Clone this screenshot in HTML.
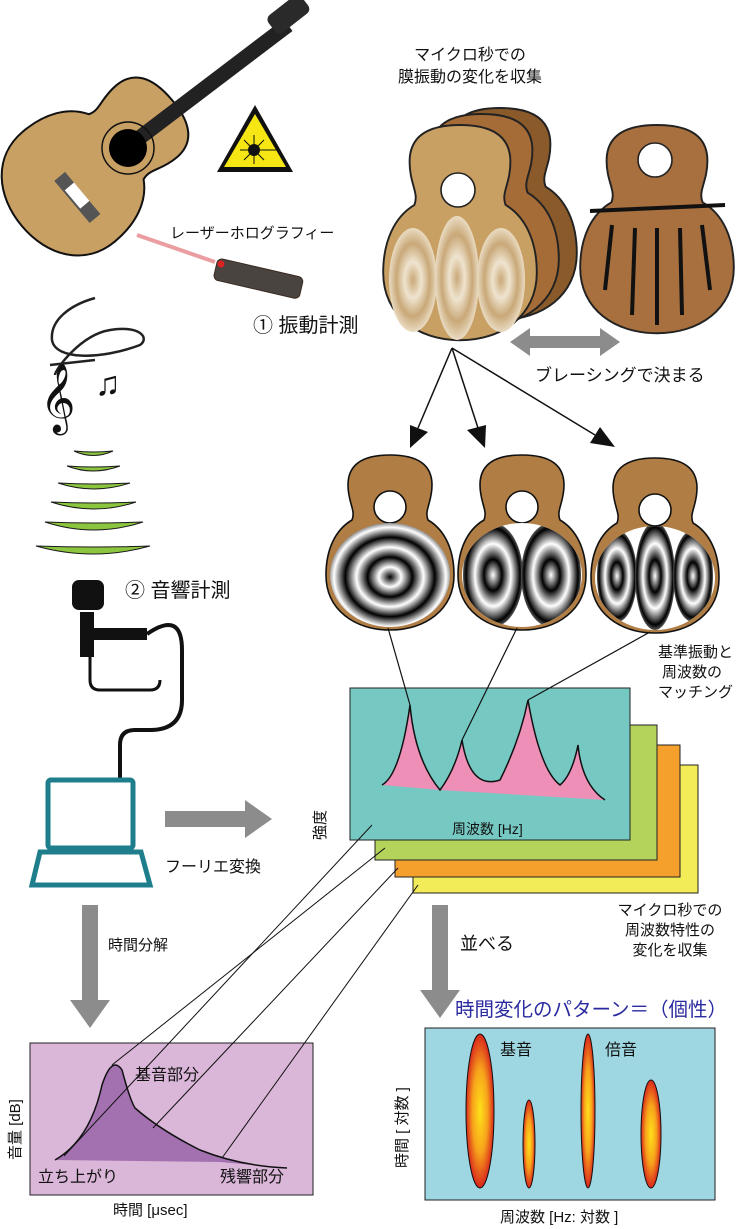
<!DOCTYPE html>
<html><head><meta charset="utf-8"><style>
html,body{margin:0;padding:0;background:#fff}
svg{display:block}
text{font-family:"Liberation Sans","Noto Sans CJK JP",sans-serif;fill:#111}
</style></head><body>
<svg width="736" height="1229" viewBox="0 0 736 1229" xmlns="http://www.w3.org/2000/svg">
<defs>
<path id="gp" d="M0,0 C28,0 42,10 42,30 C42,48 34,55 38,65 C55,75 64,95 64,120 C64,155 35,175 0,175 C-35,175 -64,155 -64,120 C-64,95 -55,75 -38,65 C-34,55 -42,48 -42,30 C-42,10 -28,0 0,0Z"/>
<clipPath id="lb"><ellipse cx="0" cy="120" rx="60" ry="52"/></clipPath>
<radialGradient id="ring" cx="0.5" cy="0.5" r="0.16" spreadMethod="repeat">
<stop offset="0" stop-color="#000"/><stop offset="0.5" stop-color="#fff"/><stop offset="1" stop-color="#000"/></radialGradient>
<radialGradient id="ring2" cx="0.5" cy="0.5" r="0.3" spreadMethod="repeat">
<stop offset="0" stop-color="#fff"/><stop offset="0.5" stop-color="#000"/><stop offset="1" stop-color="#fff"/></radialGradient>
<radialGradient id="tanring" cx="0.5" cy="0.5" r="0.35" spreadMethod="repeat">
<stop offset="0" stop-color="#c9a878"/><stop offset="0.5" stop-color="#efe4cf"/><stop offset="1" stop-color="#c9a878"/></radialGradient>
<radialGradient id="flame" cx="0.5" cy="0.5" r="0.5">
<stop offset="0" stop-color="#ffe11a"/><stop offset="0.55" stop-color="#f7a21b"/><stop offset="1" stop-color="#d9261c"/></radialGradient>
</defs>

<!-- top-left guitar -->
<use href="#gp" transform="translate(172,100) rotate(50) scale(1.12)" fill="#c9a064" stroke="#111" stroke-width="1.8"/>
<line x1="130" y1="145" x2="288" y2="25" stroke="#222" stroke-width="15"/>
<rect x="268" y="3" width="42" height="22" rx="6" fill="#2a2a2a" transform="rotate(-38 289 15)"/>
<circle cx="128" cy="148" r="26" fill="none" stroke="#111" stroke-width="1.5"/>
<circle cx="128" cy="148" r="19" fill="#000"/>
<rect x="50" y="190" width="55" height="14" fill="#555" transform="rotate(50 77 197)"/>
<rect x="64" y="190" width="24" height="12" fill="#fff" transform="rotate(50 77 197)"/>
<!-- laser sign -->
<polygon points="255,105 293,172 217,172" fill="#111"/>
<polygon points="255,114 286,167 224,167" fill="#f5e614"/>
<circle cx="254" cy="150" r="6" fill="#111"/>
<g stroke="#111" stroke-width="1"><line x1="240" y1="150" x2="280" y2="150"/><line x1="254" y1="135" x2="254" y2="164"/><line x1="244" y1="140" x2="264" y2="160"/><line x1="244" y1="160" x2="264" y2="140"/></g>
<!-- laser -->
<line x1="137" y1="235" x2="215" y2="262" stroke="#eb9ea2" stroke-width="4"/>
<rect x="218" y="258" width="88" height="22" rx="5" fill="#4a4440" stroke="#3a2a20" transform="rotate(13 218 258)"/>
<circle cx="221" cy="264" r="3.5" fill="#d22"/>
<text x="170" y="238" font-size="15">レーザーホログラフィー</text>
<text x="253" y="332" font-size="20">① 振動計測</text>

<text x="470" y="60" font-size="16" text-anchor="middle">マイクロ秒での</text>
<text x="470" y="82" font-size="16" text-anchor="middle">膜振動の変化を収集</text>
<!-- stacked bodies -->
<use href="#gp" transform="translate(500,108) scale(1.2,1.21)" fill="#8a5a2b" stroke="#222" stroke-width="1.6"/>
<use href="#gp" transform="translate(482,114) scale(1.2,1.21)" fill="#a56c38" stroke="#222" stroke-width="1.6"/>
<use href="#gp" transform="translate(460,125) scale(1.2,1.23)" fill="#c9a064" stroke="#222" stroke-width="1.6"/>
<circle cx="458" cy="190" r="17" fill="#fff" stroke="#222" stroke-width="1.6"/>
<ellipse cx="413" cy="280" rx="24" ry="52" fill="url(#tanring)"/>
<ellipse cx="457" cy="278" rx="22" ry="62" fill="url(#tanring)"/>
<ellipse cx="501" cy="280" rx="24" ry="52" fill="url(#tanring)"/>
<!-- brace body -->
<use href="#gp" transform="translate(657,125) scale(1.2,1.19)" fill="#a8703f" stroke="#222" stroke-width="1.6"/>
<circle cx="655" cy="160" r="17" fill="#fff" stroke="#222" stroke-width="1.6"/>
<g stroke="#111" stroke-width="4"><line x1="590" y1="211" x2="725" y2="205"/><line x1="612" y1="225" x2="605" y2="290"/><line x1="635" y1="228" x2="632" y2="315"/><line x1="657" y1="228" x2="657" y2="325"/><line x1="680" y1="228" x2="682" y2="315"/><line x1="702" y1="225" x2="710" y2="290"/></g>
<!-- double arrow -->
<polygon points="510,342 530,328 530,336 600,336 600,328 620,342 600,356 600,348 530,348 530,356" fill="#8c8c8c"/>
<text x="535" y="381" font-size="17">ブレーシングで決まる</text>
<!-- arrows -->
<g stroke="#111" stroke-width="1.5"><line x1="452" y1="348" x2="418" y2="428"/><line x1="452" y1="348" x2="478" y2="428"/><line x1="452" y1="348" x2="595" y2="435"/></g>
<polygon points="410,448 410,425 428,432" fill="#111"/>
<polygon points="485,448 467,430 486,425" fill="#111"/>
<polygon points="615,447 590,443 600,427" fill="#111"/>
<!-- three small guitars -->
<g transform="translate(390,455)">
<use href="#gp" fill="#b07e45" stroke="#111" stroke-width="1.6"/>
<circle cx="0" cy="52" r="16" fill="#fff" stroke="#111" stroke-width="1.6"/>
<g clip-path="url(#lb)"><ellipse cx="0" cy="122" rx="70" ry="62" fill="url(#ring)"/></g>
</g>
<g transform="translate(522,455)">
<use href="#gp" fill="#b07e45" stroke="#111" stroke-width="1.6"/>
<circle cx="0" cy="52" r="16" fill="#fff" stroke="#111" stroke-width="1.6"/>
<g clip-path="url(#lb)"><rect x="-64" y="60" width="128" height="120" fill="#fff"/><ellipse cx="-29" cy="120" rx="30" ry="52" fill="url(#ring2)"/><ellipse cx="29" cy="120" rx="30" ry="52" fill="url(#ring2)"/></g>
</g>
<g transform="translate(655,458)">
<use href="#gp" fill="#b07e45" stroke="#111" stroke-width="1.6"/>
<circle cx="0" cy="52" r="16" fill="#fff" stroke="#111" stroke-width="1.6"/>
<g clip-path="url(#lb)"><rect x="-64" y="60" width="128" height="120" fill="#fff"/><ellipse cx="-38" cy="118" rx="20" ry="46" fill="url(#ring2)"/><ellipse cx="0" cy="118" rx="20" ry="54" fill="url(#ring2)"/><ellipse cx="38" cy="118" rx="20" ry="46" fill="url(#ring2)"/></g>
</g>
<!-- music notes -->
<g fill="none" stroke="#222" stroke-width="2.5">
<path d="M95,298 C70,305 50,320 52,340 C55,360 100,360 140,345 C150,338 140,325 110,330 C80,335 55,370 55,375"/>
<path d="M50,365 L95,360"/>
</g>
<text x="40" y="418" font-size="60" fill="#111">𝄞</text>
<text x="95" y="395" font-size="34" fill="#111">♫</text>
<!-- green arcs -->
<g fill="#8cc63f" stroke="#1a1a1a" stroke-width="1">
<path d="M74,451 Q93,453 113,451 Q93,460 74,451Z"/>
<path d="M67,466 Q93,468 120,466 Q93,476 67,466Z"/>
<path d="M58,483 Q94,485 130,483 Q94,495 58,483Z"/>
<path d="M51,502 Q94,504 136,502 Q94,516 51,502Z"/>
<path d="M45,522 Q94,524 143,522 Q94,538 45,522Z"/>
<path d="M36,546 Q93,548 150,546 Q93,562 36,546Z"/>
</g>
<text x="125" y="597" font-size="20">② 音響計測</text>
<!-- mic -->
<rect x="72" y="580" width="32" height="30" rx="7" fill="#111"/>
<rect x="80" y="612" width="14" height="45" fill="#111"/>
<rect x="92" y="628" width="55" height="12" fill="#111"/>
<path d="M90,655 L90,680 Q90,690 100,690 L150,690 Q160,690 160,680" fill="none" stroke="#111" stroke-width="3"/>
<path d="M147,634 Q182,610 182,650 L182,700 Q182,730 150,730 L135,730 Q120,730 120,745 L120,778" fill="none" stroke="#111" stroke-width="4"/>
<!-- laptop -->
<rect x="48" y="780" width="85" height="68" rx="3" fill="none" stroke="#1f7e8c" stroke-width="5"/>
<path d="M40,852 L141,852 L150,885 L32,885 Z" fill="none" stroke="#1f7e8c" stroke-width="5"/>
<polygon points="165,811 245,811 245,800 272,819 245,838 245,827 165,827" fill="#8c8c8c"/>
<text x="165" y="872" font-size="16">フーリエ変換</text>
<text x="0" y="0" font-size="15" transform="translate(325,840) rotate(-90)">強度</text>
<!-- spectrum stack -->
<rect x="413" y="765" width="285" height="128" fill="#f2ec58" stroke="#222"/>
<rect x="395" y="745" width="285" height="132" fill="#f5a02c" stroke="#222"/>
<rect x="375" y="725" width="282" height="135" fill="#b4d35a" stroke="#222"/>
<rect x="350" y="688" width="280" height="152" fill="#76c9c3" stroke="#222"/>
<path d="M382,785 Q400,775 410,705 Q415,760 440,790 Q455,770 462,740 Q470,790 500,780 Q520,740 528,700 Q540,770 560,785 Q572,775 578,745 Q582,785 605,800 L440,790 Z" fill="#ee8fb8"/>
<path d="M382,785 Q400,775 410,705 Q415,760 440,790 Q455,770 462,740 Q470,790 500,780 Q520,740 528,700 Q540,770 560,785 Q572,775 578,745 Q582,785 605,800" fill="none" stroke="#111" stroke-width="1.5"/>
<text x="452" y="834" font-size="14">周波数 [Hz]</text>
<text x="733" y="657" font-size="15" text-anchor="end">基準振動と</text>
<text x="722" y="677" font-size="15" text-anchor="end">周波数の</text>
<text x="733" y="697" font-size="15" text-anchor="end">マッチング</text>
<!-- match lines -->
<g stroke="#111" stroke-width="1.2"><line x1="388" y1="628" x2="410" y2="705"/><line x1="517" y1="628" x2="462" y2="740"/><line x1="650" y1="632" x2="528" y2="700"/></g>
<text x="670" y="915" font-size="15" text-anchor="middle">マイクロ秒での</text>
<text x="670" y="935" font-size="15" text-anchor="middle">周波数特性の</text>
<text x="670" y="955" font-size="15" text-anchor="middle">変化を収集</text>
<!-- down arrows -->
<polygon points="82,905 98,905 98,1000 110,1000 90,1028 70,1000 82,1000" fill="#8c8c8c"/>
<text x="108" y="950" font-size="15">時間分解</text>
<polygon points="432,905 448,905 448,990 460,990 440,1018 420,990 432,990" fill="#8c8c8c"/>
<text x="460" y="950" font-size="18">並べる</text>
<text x="455" y="1016" font-size="19.5" style="fill:#2a2aa0">時間変化のパターン＝（個性）</text>
<!-- pink panel -->
<rect x="30" y="1043" width="283" height="152" fill="#dab6d8" stroke="#222"/>
<path d="M55,1160 Q90,1140 102,1085 Q112,1055 122,1070 Q130,1100 135,1108 Q160,1130 200,1150 Q240,1166 287,1168 L220,1162 Z" fill="#a471b0"/>
<path d="M55,1160 Q90,1140 102,1085 Q112,1055 122,1070 Q130,1100 135,1108 Q160,1130 200,1150 Q240,1166 287,1168" fill="none" stroke="#111" stroke-width="1.5"/>
<text x="135" y="1080" font-size="16">基音部分</text>
<text x="38" y="1182" font-size="16">立ち上がり</text>
<text x="220" y="1182" font-size="16">残響部分</text>
<text x="0" y="0" font-size="15" transform="translate(20,1160) rotate(-90)">音量 [dB]</text>
<text x="113" y="1215" font-size="15">時間 [μsec]</text>
<!-- connector lines -->
<g stroke="#111" stroke-width="1"><line x1="372" y1="825" x2="64" y2="1156"/><line x1="385" y1="848" x2="112" y2="1065"/><line x1="398" y1="868" x2="153" y2="1128"/><line x1="418" y1="885" x2="222" y2="1158"/></g>
<!-- blue panel -->
<rect x="425" y="1028" width="290" height="172" fill="#9ed7e2" stroke="#222"/>
<ellipse cx="480" cy="1111" rx="14" ry="77" fill="url(#flame)" stroke="#111" stroke-width="1"/>
<ellipse cx="529" cy="1144" rx="6" ry="44" fill="url(#flame)" stroke="#111" stroke-width="1"/>
<ellipse cx="588" cy="1111" rx="7" ry="77" fill="url(#flame)" stroke="#111" stroke-width="1"/>
<ellipse cx="651" cy="1134" rx="10" ry="54" fill="url(#flame)" stroke="#111" stroke-width="1"/>
<text x="500" y="1055" font-size="16">基音</text>
<text x="605" y="1055" font-size="16">倍音</text>
<text x="0" y="0" font-size="15" transform="translate(407,1168) rotate(-90)">時間 [ 対数 ]</text>
<text x="500" y="1222" font-size="15">周波数 [Hz: 対数 ]</text>
</svg>
</body></html>
